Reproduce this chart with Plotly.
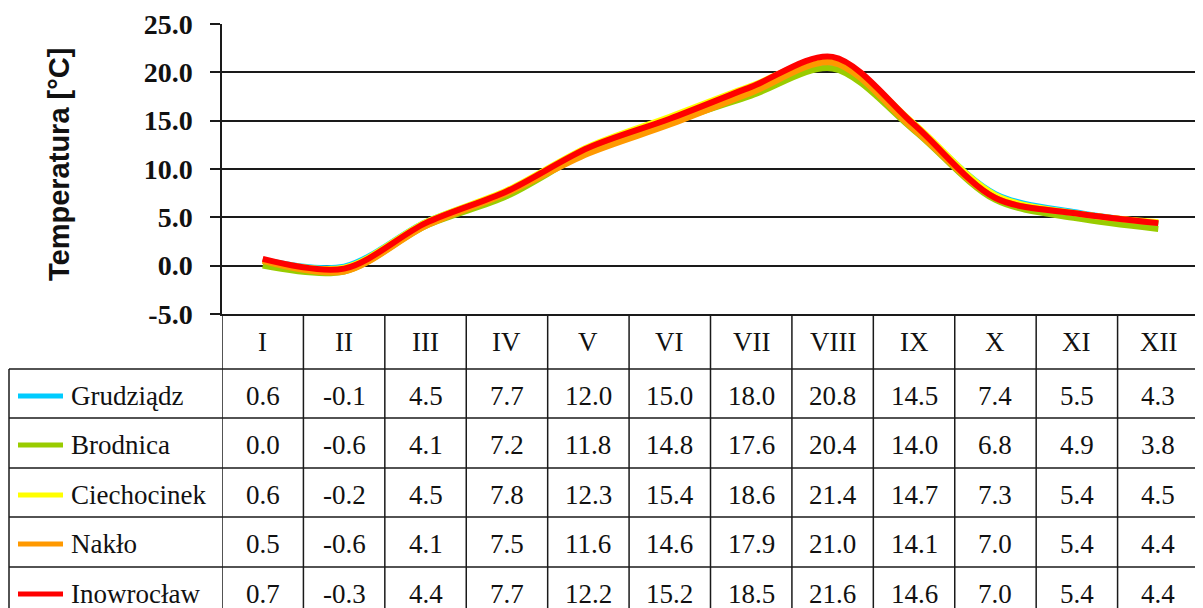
import plotly.graph_objects as go

months = ["I", "II", "III", "IV", "V", "VI", "VII", "VIII", "IX", "X", "XI", "XII"]
stations = ["Grudziądz", "Brodnica", "Ciechocinek", "Nakło", "Inowrocław"]
grudziadz = [0.6, -0.1, 4.5, 7.7, 12.0, 15.0, 18.0, 20.8, 14.5, 7.4, 5.5, 4.3]
brodnica = [0.0, -0.6, 4.1, 7.2, 11.8, 14.8, 17.6, 20.4, 14.0, 6.8, 4.9, 3.8]
ciechocinek = [0.6, -0.2, 4.5, 7.8, 12.3, 15.4, 18.6, 21.4, 14.7, 7.3, 5.4, 4.5]
naklo = [0.5, -0.6, 4.1, 7.5, 11.6, 14.6, 17.9, 21.0, 14.1, 7.0, 5.4, 4.4]
inowroclaw = [0.7, -0.3, 4.4, 7.7, 12.2, 15.2, 18.5, 21.6, 14.6, 7.0, 5.4, 4.4]
series = [grudziadz, brodnica, ciechocinek, naklo, inowroclaw]
colors = ["#00CCFF", "#99CC00", "#FFFF00", "#FF9900", "#FF0000"]
y_ticks = [-5, 0, 5, 10, 15, 20, 25]
y_tick_labels = ["-5.0", "0.0", "5.0", "10.0", "15.0", "20.0", "25.0"]
y_title = "Temperatura [°C]"

W, H = 1203, 608
OFF = 8  # default page body margin of the html page
def px_x(x): return (x - OFF) / W
def px_y(y): return 1 - (y - OFF) / H

X0, X1 = 222, 1199      # plot area left/right (px, page coords)
Y_TOP, Y_BOT = 24, 314  # y for 25 and -5
ROW_LINES = [369, 418, 468, 517, 567]
ROW_H = 50
SERIF = "Liberation Serif"
LINE_COL = "#1a1a1a"

fig = go.Figure()
xs = list(range(len(months)))
for name, vals, col in zip(stations, series, colors):
    fig.add_trace(go.Scatter(
        x=xs, y=vals, mode="lines", name=name,
        line=dict(color=col, width=6, shape="spline", smoothing=0.9),
        showlegend=False, hoverinfo="skip"))

shapes = []
annotations = []

for k in range(len(months) + 1):
    shapes.append(dict(type="line", xref="x", yref="paper",
                       x0=k - 0.5, x1=k - 0.5, y0=px_y(Y_BOT), y1=px_y(620),
                       line=dict(color=LINE_COL, width=1.5)))
shapes.append(dict(type="line", xref="paper", yref="paper",
                   x0=px_x(9), x1=px_x(9), y0=px_y(ROW_LINES[0]), y1=px_y(620),
                   line=dict(color=LINE_COL, width=1.5)))
for yl in ROW_LINES:
    shapes.append(dict(type="line", xref="paper", yref="paper",
                       x0=px_x(9), x1=px_x(X1), y0=px_y(yl), y1=px_y(yl),
                       line=dict(color=LINE_COL, width=1.5)))

hdr_c = (Y_BOT + ROW_LINES[0]) / 2
for i, m in enumerate(months):
    annotations.append(dict(x=i, y=px_y(hdr_c), xref="x", yref="paper",
                            xanchor="center", yanchor="middle",
                            text=m, showarrow=False,
                            font=dict(family=SERIF, size=27, color="#111")))

for r, (name, vals, col) in enumerate(zip(stations, series, colors)):
    yc = ROW_LINES[r] + ROW_H / 2 + 2
    shapes.append(dict(type="line", xref="paper", yref="paper",
                       x0=px_x(18), x1=px_x(63), y0=px_y(yc), y1=px_y(yc),
                       line=dict(color=col, width=5)))
    annotations.append(dict(x=px_x(69), y=px_y(yc), xref="paper", yref="paper",
                            xanchor="left", yanchor="middle",
                            text=name, showarrow=False,
                            font=dict(family=SERIF, size=27, color="#111")))
    for i, v in enumerate(vals):
        annotations.append(dict(x=i, y=px_y(yc), xref="x", yref="paper",
                                xanchor="center", yanchor="middle",
                                text=f"{v:.1f}", showarrow=False,
                                font=dict(family=SERIF, size=27, color="#111")))

annotations.append(dict(x=px_x(59), y=px_y(165), xref="paper", yref="paper",
                        xanchor="center", yanchor="middle",
                        text=y_title, showarrow=False, textangle=-90,
                        font=dict(family="Liberation Sans", size=29, color="#111",
                                  weight="bold")))

fig.update_layout(
    width=W, height=H, autosize=False,
    margin=dict(l=0, r=0, t=0, b=0),
    paper_bgcolor="white", plot_bgcolor="white",
    xaxis=dict(domain=[px_x(X0), px_x(X1)], range=[-0.5, 11.5],
               showgrid=False, zeroline=False, showticklabels=False,
               showline=True, linecolor=LINE_COL, linewidth=1.5, ticks="",
               automargin=False),
    yaxis=dict(domain=[px_y(Y_BOT), px_y(Y_TOP)], range=[-5, 25],
               tickmode="array", tickvals=y_ticks, ticktext=y_tick_labels,
               showgrid=True, gridcolor=LINE_COL, gridwidth=1.5,
               zeroline=False, showline=True, linecolor=LINE_COL, linewidth=1.5,
               ticks="outside", ticklen=10, tickcolor=LINE_COL, tickwidth=1.5,
               ticklabelstandoff=12, automargin=False,
               tickfont=dict(family=SERIF, size=28, color="#111", weight="bold")),
    shapes=shapes, annotations=annotations,
)

fig.write_html("out.html")
